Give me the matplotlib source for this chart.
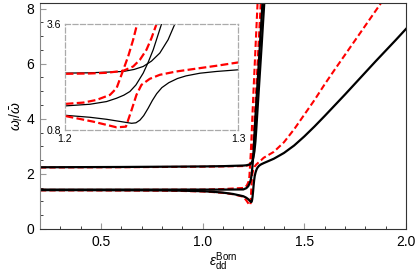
import numpy as np
import matplotlib
matplotlib.use("Agg")
import matplotlib.pyplot as plt
from matplotlib.ticker import MultipleLocator

plt.rcParams['font.family'] = ['Liberation Sans', 'DejaVu Sans']
plt.rcParams['mathtext.fontset'] = 'custom'
plt.rcParams['mathtext.rm'] = 'Liberation Sans'
plt.rcParams['mathtext.it'] = 'Liberation Sans:italic'

# --- mode frequencies ---
# black solid curves (three branches)
bt_x = [0.2, 0.4, 0.6, 0.8, 1.0, 1.1, 1.2, 1.2144, 1.224, 1.2337, 1.24, 1.2452, 1.25,
        1.2548, 1.2596, 1.2635, 1.27, 1.28, 1.29, 1.30, 1.31]
bt_y = [2.24, 2.245, 2.25, 2.26, 2.27, 2.28, 2.302, 2.311, 2.328, 2.346, 2.40, 2.478, 2.62,
        2.832, 3.185, 3.60, 4.35, 5.5, 6.65, 7.85, 9.0]

bm_x = [0.2, 0.4, 0.6, 0.8, 1.0, 1.1, 1.2, 1.2144, 1.224, 1.2298, 1.234, 1.2375, 1.241,
        1.2452, 1.248, 1.251, 1.2558, 1.26, 1.27, 1.28, 1.29, 1.30]
bm_y = [1.43, 1.43, 1.43, 1.43, 1.43, 1.43, 1.436, 1.48, 1.551, 1.639, 1.72, 1.816, 1.99,
        2.302, 2.58, 2.92, 3.60, 4.15, 5.3, 6.5, 7.7, 8.9]

bb_x = [0.2, 0.4, 0.6, 0.8, 0.9, 1.0, 1.05, 1.1, 1.15, 1.2, 1.2144, 1.224, 1.2337, 1.2385,
        1.241, 1.2433, 1.2455, 1.248, 1.2505, 1.253, 1.256, 1.26, 1.265, 1.27, 1.278,
        1.2875, 1.3, 1.35, 1.4, 1.45, 1.5, 1.55, 1.6, 1.65, 1.7, 1.75, 1.8, 1.85, 1.9,
        1.95, 2.0]
bb_y = [1.41, 1.41, 1.405, 1.40, 1.39, 1.37, 1.35, 1.32, 1.27, 1.189, 1.136, 1.083, 1.012,
        0.977, 0.99, 1.06, 1.18, 1.37, 1.58, 1.76, 1.92, 2.05, 2.16, 2.23, 2.30,
        2.346, 2.39, 2.55, 2.76, 3.03, 3.36, 3.72, 4.10, 4.49, 4.88, 5.28, 5.68, 6.08, 6.47,
        6.86, 7.26]

# red dashed curves (three branches)
rt_x = [0.2, 0.4, 0.6, 0.8, 1.0, 1.1, 1.2, 1.2144, 1.224, 1.2337, 1.2394, 1.2433, 1.2471,
        1.25, 1.2529, 1.26, 1.27, 1.28, 1.29]
rt_y = [2.23, 2.235, 2.24, 2.25, 2.26, 2.27, 2.284, 2.293, 2.311, 2.364, 2.478, 2.655, 2.92,
        3.229, 3.60, 4.6, 6.0, 7.4, 8.8]

rm_x = [0.2, 0.4, 0.6, 0.8, 1.0, 1.1, 1.2, 1.2106, 1.2183, 1.226, 1.2298, 1.2337, 1.2365,
        1.2394, 1.2417, 1.25, 1.26, 1.27, 1.28]
rm_y = [1.42, 1.42, 1.42, 1.425, 1.43, 1.45, 1.489, 1.524, 1.595, 1.728, 1.904, 2.39, 2.743,
        3.185, 3.60, 5.0, 6.6, 8.2, 9.8]

rb_x = [0.2, 0.4, 0.6, 0.8, 0.9, 1.0, 1.05, 1.1, 1.15, 1.2, 1.2163, 1.2298, 1.2352, 1.2385,
        1.2413, 1.2442, 1.249, 1.2548, 1.2644, 1.2779, 1.2875, 1.3, 1.35, 1.4, 1.45, 1.5,
        1.55, 1.6, 1.65, 1.7, 1.75, 1.8, 1.85, 1.9]
rb_y = [1.40, 1.40, 1.395, 1.39, 1.38, 1.36, 1.34, 1.31, 1.26, 1.171, 1.021, 0.871, 0.888,
        1.33, 1.728, 1.993, 2.152, 2.258, 2.346, 2.434, 2.496, 2.584, 2.80, 3.15, 3.62, 4.15,
        4.68, 5.25, 5.79, 6.32, 6.85, 7.38, 7.91, 8.44]

black = [(bt_x, bt_y), (bm_x, bm_y), (bb_x, bb_y)]
red = [(rt_x, rt_y), (rm_x, rm_y), (rb_x, rb_y)]

fig = plt.figure(figsize=(4.15, 2.75), dpi=100)
ax = fig.add_axes([40 / 415, 1 - 229 / 275, 366 / 415, 226 / 275])

for x, y in red:
    ax.plot(x, y, color='#ff0000', lw=1.5, ls=(0, (3, 1.5)))
for x, y in black:
    ax.plot(x, y, color='black', lw=1.6)

ax.set_xlim(0.2, 2.0)
ax.set_ylim(0, 8.2)
ax.set_xticks([0.5, 1.0, 1.5, 2.0])
ax.set_yticks([0, 2, 4, 6, 8])
ax.xaxis.set_minor_locator(MultipleLocator(0.1))
ax.yaxis.set_minor_locator(MultipleLocator(0.5))
ax.tick_params(which='both', direction='in', labelsize=10, pad=4)
ax.tick_params(which='major', length=4, color='#999999')
ax.tick_params(which='minor', length=2.5, color='#222222')
ax.spines['left'].set_color('#888888')
for s in ['top', 'right', 'bottom']:
    ax.spines[s].set_color('#333333')
ax.set_xlabel(r'$\epsilon_{\rm dd}^{\rm Born}$', fontsize=10, labelpad=1)
ax.set_ylabel(r'$\omega_l/\bar{\omega}$', fontsize=10, labelpad=1)

# --- inset: zoom near the crossing ---
ins = fig.add_axes([65 / 415, 1 - 130 / 275, 173 / 415, 106 / 275])
for x, y in black:
    ins.plot(x, y, color='black', lw=0.9)
for x, y in red:
    ins.plot(x, y, color='#ff0000', lw=1.6, ls=(0, (3.5, 1.5)))
ins.set_xlim(1.2, 1.3)
ins.set_ylim(0.8, 3.6)
ins.set_xticks([1.2, 1.3])
ins.set_yticks([0.8, 3.6])
ins.set_xticklabels(['1.2', '1.3'])
ins.set_yticklabels(['0.8', '3.6'])
ins.tick_params(length=0, labelsize=7.5, pad=3)
for s in ins.spines.values():
    s.set_color('#aaaaaa')
    s.set_linestyle((0, (4, 2)))
    s.set_linewidth(0.9)

plt.savefig('out.png', dpi=100)
